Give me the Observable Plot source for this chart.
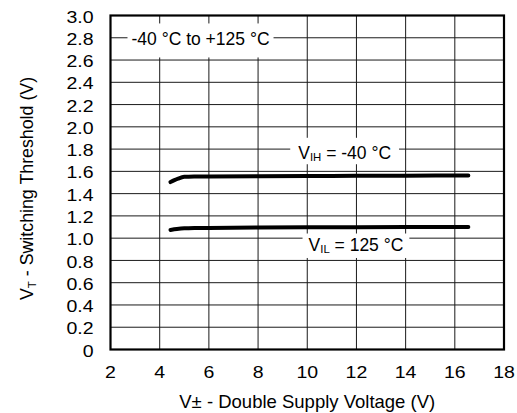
<!DOCTYPE html>
<html>
<head>
<meta charset="utf-8">
<script src="https://cdn.jsdelivr.net/npm/d3@7"></script>
<script src="https://cdn.jsdelivr.net/npm/@observablehq/plot@0.6"></script>
<style>
  html, body { margin: 0; padding: 0; background: #fff; }
  #chart svg { display: block; }
</style>
</head>
<body>
<div id="chart"></div>
<script>
// ---- data ----
const xTicks = [2, 4, 6, 8, 10, 12, 14, 16, 18];
const yTicks = [0, 0.2, 0.4, 0.6, 0.8, 1.0, 1.2, 1.4, 1.6, 1.8, 2.0, 2.2, 2.4, 2.6, 2.8, 3.0];

// V_IH at -40 °C
const vihX = [4.44, 4.6, 4.75, 5.0, 5.4, 6, 8, 10, 12, 14, 16.55];
const vihY = [1.504, 1.521, 1.535, 1.551, 1.554, 1.555, 1.557, 1.558, 1.560, 1.561, 1.563];
// V_IL at 125 °C
const vilX = [4.44, 4.7, 5.0, 5.5, 6, 8, 10, 12, 14, 16.55];
const vilY = [1.074, 1.082, 1.088, 1.091, 1.092, 1.095, 1.097, 1.099, 1.100, 1.101];

const annText = ["-40 °C to +125 °C", "V_{IH} = -40 °C", "V_{IL} = 125 °C"];
const annX = [5.66, 11.52, 11.98];
const annY = [2.731, 1.713, 0.889];

const xLabel = "V± - Double Supply Voltage (V)";
const yLabel = "V_{T} - Switching Threshold (V)";

// ---- build ----
const vih = vihX.map((x, i) => ({x, y: vihY[i]}));
const vil = vilX.map((x, i) => ({x, y: vilY[i]}));
const ann = annText.map((t, i) => ({t, x: annX[i], y: annY[i]}));

const svg = Plot.plot({
  width: 517,
  height: 413,
  marginLeft: 110,
  marginRight: 13.5,
  marginTop: 15,
  marginBottom: 64,
  style: {fontFamily: "'Liberation Sans', Arial, Helvetica, sans-serif", fontSize: "16px", color: "black", background: "white"},
  x: {domain: [2, 18]},
  y: {domain: [0, 3]},
  marks: [
    Plot.gridX(xTicks, {stroke: "#1a1a1a", strokeOpacity: 1, strokeWidth: 1}),
    Plot.gridY(yTicks, {stroke: "#1a1a1a", strokeOpacity: 1, strokeWidth: 1}),
    Plot.frame({stroke: "black", strokeWidth: 2.2}),
    Plot.axisX(xTicks, {tickSize: 0, tickPadding: 17, label: null, fill: "black", fontSize: 16}),
    Plot.axisY(yTicks, {tickSize: 0, tickPadding: 17, dy: 2, label: null, fill: "black", fontSize: 16,
      tickFormat: d => d === 0 ? "0" : d.toFixed(1)}),
    Plot.line(vih, {x: "x", y: "y", stroke: "black", strokeWidth: 4, curve: "monotone-x"}),
    Plot.line(vil, {x: "x", y: "y", stroke: "black", strokeWidth: 4, curve: "monotone-x"}),
    Plot.text(ann, {x: "x", y: "y", text: "t", textAnchor: "middle", lineAnchor: "bottom",
      fontSize: 17.5, fill: "black", ariaLabel: () => "annotation"}),
    Plot.text([xLabel], {text: d => d, frameAnchor: "bottom", textAnchor: "middle", lineAnchor: "bottom",
      dy: 58, fontSize: 18.5, fill: "black"}),
    Plot.text([yLabel], {text: d => d, frameAnchor: "left", rotate: -90, textAnchor: "middle", lineAnchor: "bottom",
      dx: -77.5, dy: 6, fontSize: 17.8, fill: "black"})
  ]
});
document.getElementById("chart").append(svg);

const NS = "http://www.w3.org/2000/svg";

// subscripts
svg.querySelectorAll("text").forEach(el => {
  const s = el.textContent;
  if (!s.includes("_{")) return;
  const size = parseFloat(getComputedStyle(el).fontSize) || 17;
  const shift = 0.14 * size;
  const parts = s.split(/_\{([^}]*)\}/);
  el.textContent = "";
  let shifted = false;
  parts.forEach((p, i) => {
    if (!p) return;
    const ts = document.createElementNS(NS, "tspan");
    ts.textContent = p;
    if (i % 2) {
      ts.setAttribute("font-size", (0.65 * size) + "px");
      ts.setAttribute("dy", shift);
      shifted = true;
    } else if (shifted) {
      ts.setAttribute("dy", -shift);
      shifted = false;
    }
    el.append(ts);
  });
});

// white boxes behind annotations
const plainAnn = annText.map(s => s.replace(/_\{([^}]*)\}/g, "$1"));
const pads = [[4, 6, 8], [8, 5, 1], [6, 1, 3]]; // [x, top, bottom]
svg.querySelectorAll("text").forEach(el => {
  const i = plainAnn.indexOf(el.textContent);
  if (i < 0) return;
  const b = el.getBBox();
  const p = pads[i];
  const r = document.createElementNS(NS, "rect");
  r.setAttribute("x", b.x - p[0]);
  r.setAttribute("y", b.y - p[1]);
  r.setAttribute("width", b.width + 2 * p[0]);
  r.setAttribute("height", b.height + p[1] + p[2]);
  r.setAttribute("fill", "white");
  r.setAttribute("stroke", "none");
  const t = el.getAttribute("transform");
  if (t) r.setAttribute("transform", t);
  el.parentNode.insertBefore(r, el);
});

// wide tick-label glyphs as in the reference
svg.querySelectorAll('g[aria-label="x-axis tick label"] text, g[aria-label="y-axis tick label"] text').forEach(el => {
  const t = el.getAttribute("transform");
  if (t) el.setAttribute("transform", t + " scale(1.22,1)");
});
</script>
</body>
</html>
